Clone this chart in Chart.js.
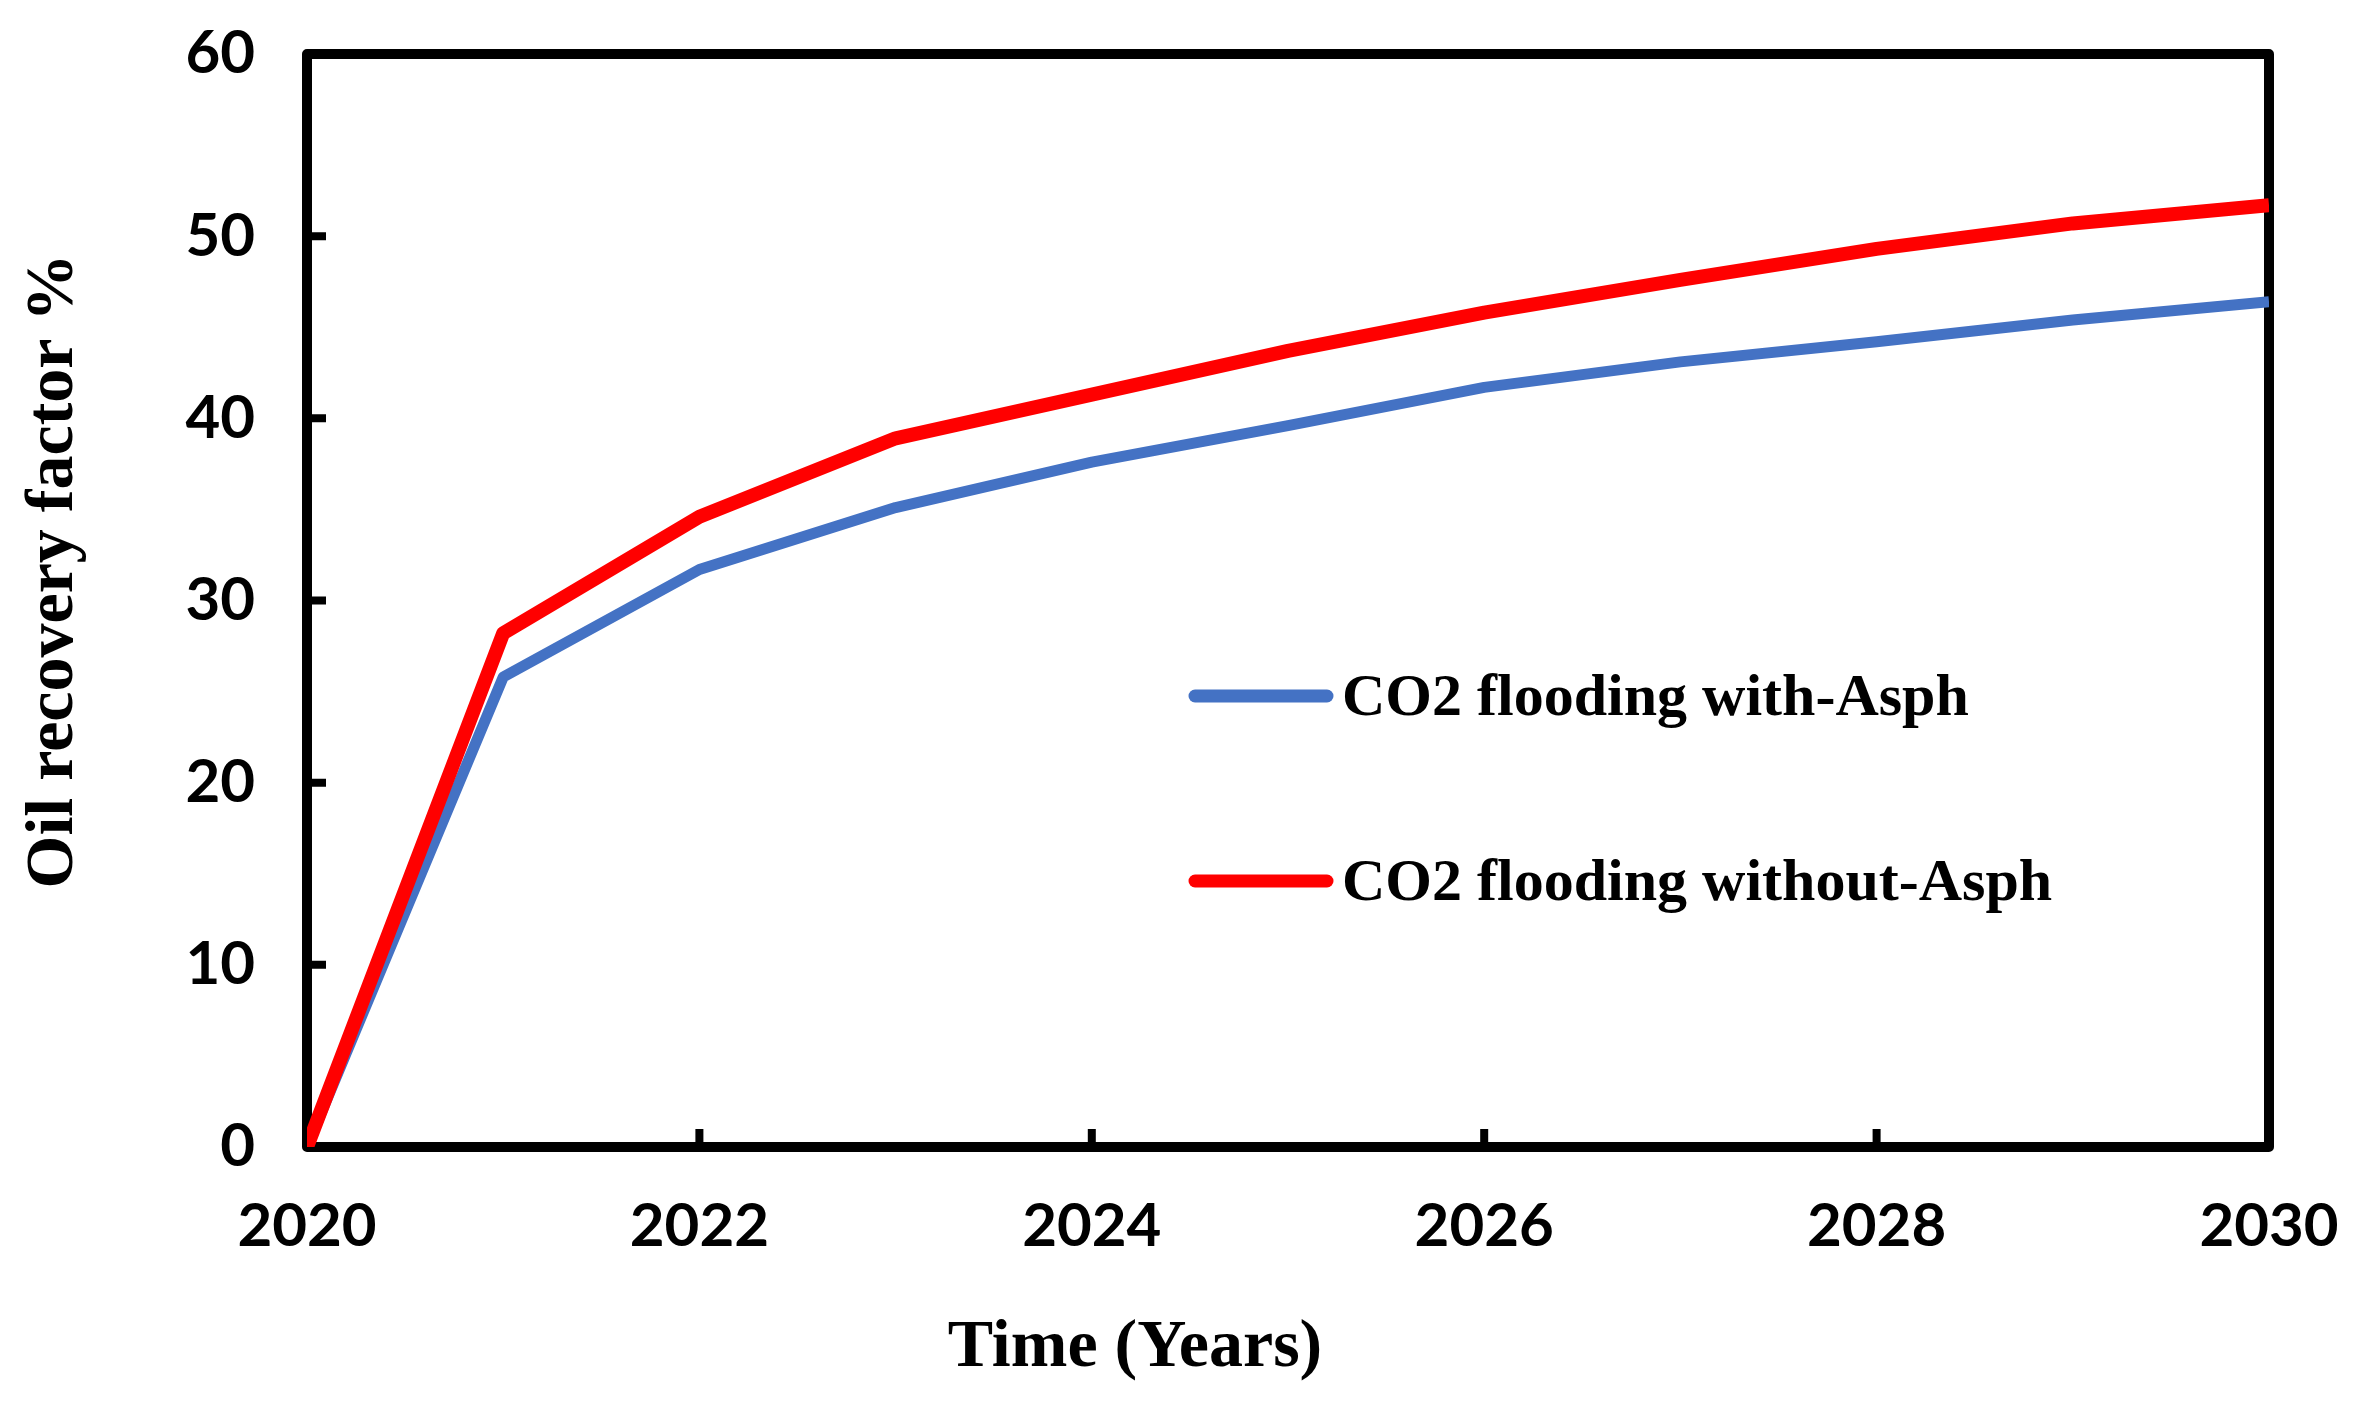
<!DOCTYPE html>
<html>
<head>
<meta charset="utf-8">
<script src="https://cdn.jsdelivr.net/npm/chart.js@4.4.1/dist/chart.umd.min.js"></script>
<style>
html,body{margin:0;padding:0;background:#fff;}
#wrap{width:2356px;height:1408px;}
</style>
</head>
<body>
<div id="wrap"><canvas id="c" width="2356" height="1408"></canvas></div>
<script>
const years = [2020, 2021, 2022, 2023, 2024, 2025, 2026, 2027, 2028, 2029, 2030];
const withAsph = [0, 25.8, 31.7, 35.1, 37.6, 39.6, 41.7, 43.1, 44.2, 45.4, 46.4];
const withoutAsph = [0, 28.2, 34.6, 38.9, 41.3, 43.7, 45.8, 47.6, 49.3, 50.7, 51.7];
const seriesLabels = ['CO2 flooding with-Asph', 'CO2 flooding without-Asph'];
const xTickValues = [2020, 2022, 2024, 2026, 2028, 2030];
const yTickValues = [0, 10, 20, 30, 40, 50, 60];
const xTitle = 'Time (Years)';
const yTitle = 'Oil recovery factor %';

const BLUE = '#4472C4', RED = '#FF0000';
const tickFont = {family: 'Lato', weight: 'bold', size: 60};

function zeroPad(s) { s.paddingTop = 0; s.paddingBottom = 0; s.paddingLeft = 0; s.paddingRight = 0; }

const framePlugin = {
  id: 'frame',
  beforeDatasetsDraw(chart) {
    const {ctx, chartArea: a, scales: {x, y}} = chart;
    ctx.save();
    ctx.strokeStyle = '#000';
    ctx.lineWidth = 10;
    ctx.lineJoin = 'round';
    ctx.strokeRect(a.left, a.top, a.right - a.left, a.bottom - a.top);
    ctx.lineWidth = 8;
    ctx.lineCap = 'butt';
    ctx.beginPath();
    yTickValues.forEach(v => {
      const py = y.getPixelForValue(v);
      ctx.moveTo(a.left, py); ctx.lineTo(a.left + 19, py);
    });
    xTickValues.forEach(v => {
      const px = x.getPixelForValue(v);
      ctx.moveTo(px, a.bottom); ctx.lineTo(px, a.bottom - 18);
    });
    ctx.stroke();
    ctx.restore();
  },
  afterDraw(chart) {
    const {ctx} = chart;
    ctx.save();
    ctx.fillStyle = '#000';
    ctx.textAlign = 'center';
    ctx.textBaseline = 'middle';
    ctx.font = 'bold 68px "Liberation Serif"';
    ctx.fillText(xTitle, 1135, 1348);
    ctx.translate(54, 571);
    ctx.rotate(-Math.PI / 2);
    ctx.fillText(yTitle, 0, 0);
    ctx.restore();
    ctx.save();
    const rows = [696, 881];
    chart.data.datasets.slice().sort((p, q) => p.legendIndex - q.legendIndex).forEach((ds, i) => {
      const ly = rows[i];
      ctx.strokeStyle = ds.borderColor;
      ctx.lineWidth = 13;
      ctx.lineCap = 'round';
      ctx.beginPath();
      ctx.moveTo(1195, ly); ctx.lineTo(1327, ly);
      ctx.stroke();
      ctx.fillStyle = '#000';
      ctx.font = 'bold 60px "Liberation Serif"';
      ctx.textAlign = 'left';
      ctx.textBaseline = 'alphabetic';
      ctx.fillText(ds.label, 1342, ly + 19);
    });
    ctx.restore();
  }
};

const chart = new Chart(document.getElementById('c'), {
  type: 'line',
  data: {
    datasets: [
      {
        label: seriesLabels[1],
        legendIndex: 1,
        data: years.map((yr, i) => ({x: yr, y: withoutAsph[i]})),
        borderColor: RED, backgroundColor: RED,
        borderWidth: 14, pointRadius: 0, tension: 0,
        borderJoinStyle: 'round', borderCapStyle: 'butt', order: 0
      },
      {
        label: seriesLabels[0],
        legendIndex: 0,
        data: years.map((yr, i) => ({x: yr, y: withAsph[i]})),
        borderColor: BLUE, backgroundColor: BLUE,
        borderWidth: 11, pointRadius: 0, tension: 0,
        borderJoinStyle: 'round', borderCapStyle: 'butt', order: 1
      }
    ]
  },
  options: {
    responsive: false,
    animation: false,
    devicePixelRatio: 1,
    layout: {padding: {top: 54, right: 87, left: 0, bottom: 0}},
    plugins: {legend: {display: false}, tooltip: {enabled: false}},
    scales: {
      x: {
        type: 'linear', min: 2020, max: 2030,
        afterBuildTicks(s) { s.ticks = xTickValues.map(v => ({value: v})); },
        afterFit(s) { s.height = 261; zeroPad(s); },
        grid: {display: false, drawTicks: false},
        border: {display: false},
        ticks: {
          color: '#000', font: tickFont, padding: 44, maxRotation: 0, autoSkip: false,
          callback: v => String(v)
        },
        title: {display: false}
      },
      y: {
        type: 'linear', min: 0, max: 60,
        afterBuildTicks(s) { s.ticks = yTickValues.map(v => ({value: v})); },
        afterFit(s) { s.width = 307; zeroPad(s); },
        grid: {display: false, drawTicks: false},
        border: {display: false},
        ticks: {color: '#000', font: tickFont, padding: 52, callback: v => String(v)}
      }
    }
  },
  plugins: [framePlugin]
});
</script>
</body>
</html>
